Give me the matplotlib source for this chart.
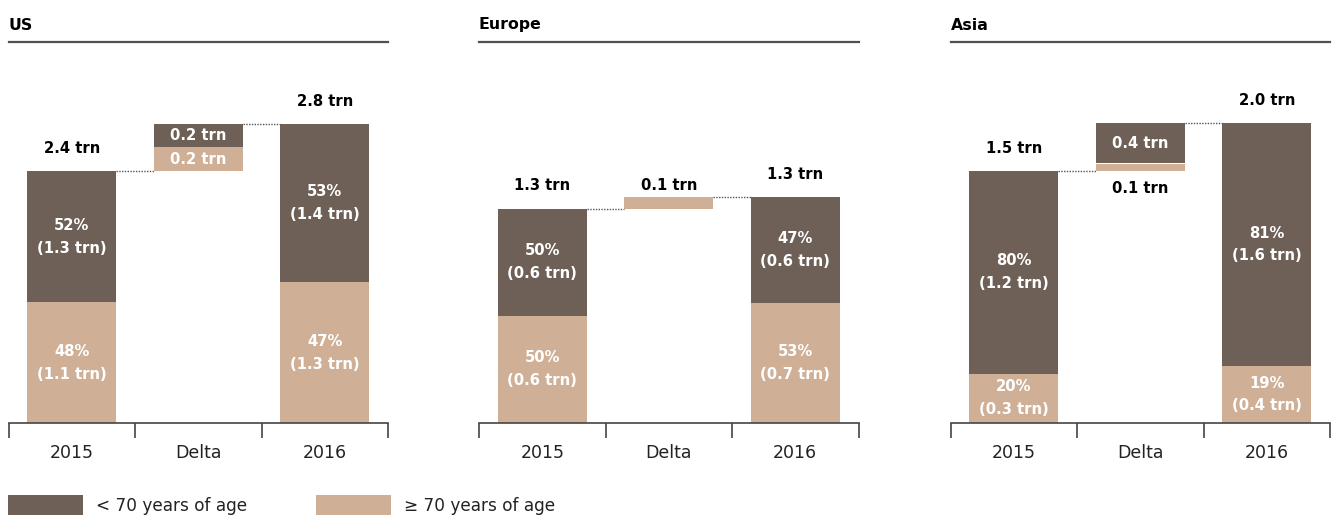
# wealth by age group: 2015 -> 2016 waterfall per region

import numpy as np
import matplotlib
matplotlib.use("Agg")
import matplotlib.pyplot as plt
from matplotlib.patches import Rectangle

plt.rcParams["font.family"] = ["DejaVu Sans"]

# data (trn): order is 2015, delta, 2016
categories = ["2015", "Delta", "2016"]
regions = ["US", "Europe", "Asia"]

us_young = [1.25, 0.22, 1.51]
us_old = [1.15, 0.23, 1.34]
eu_young = [0.65, 0.00, 0.64]
eu_old = [0.65, 0.07, 0.73]
asia_young = [1.35, 0.27, 1.62]
asia_old = [0.33, 0.05, 0.38]

# printed labels
us_totals = ["2.4 trn", "2.8 trn"]
eu_totals = ["1.3 trn", "1.3 trn"]
asia_totals = ["1.5 trn", "2.0 trn"]
us_young_labels = ["52%\n(1.3 trn)", "0.2 trn", "53%\n(1.4 trn)"]
us_old_labels = ["48%\n(1.1 trn)", "0.2 trn", "47%\n(1.3 trn)"]
eu_young_labels = ["50%\n(0.6 trn)", "", "47%\n(0.6 trn)"]
eu_old_labels = ["50%\n(0.6 trn)", "0.1 trn", "53%\n(0.7 trn)"]
asia_young_labels = ["80%\n(1.2 trn)", "0.4 trn", "81%\n(1.6 trn)"]
asia_old_labels = ["20%\n(0.3 trn)", "0.1 trn", "19%\n(0.4 trn)"]
legend_labels = ["< 70 years of age", "\u2265 70 years of age"]

dark = "#6e6056"
light = "#cfb097"
line_col = "#444444"
lab_size = 10.6

panels = [
    (us_young, us_old, us_totals, us_young_labels, us_old_labels, 3.63, 8.5),
    (eu_young, eu_old, eu_totals, eu_young_labels, eu_old_labels, 2.31, 479),
    (asia_young, asia_old, asia_totals, asia_young_labels, asia_old_labels, 2.54, 950.5),
]

W, H = 1336, 515
fig = plt.figure(figsize=(W / 100, H / 100), dpi=100)

x = np.arange(3)
bw = 0.70

for (young, old, totals, ylab, olab, ytop, left), name in zip(panels, regions):
    ax = fig.add_axes([left / W, (H - 423) / H, 379.5 / W, 381 / H])

    start = old[0] + young[0]
    bottoms = [0, start, 0]
    ax.bar(x, old, bw, bottom=bottoms, color=light, linewidth=0)
    ax.bar(x, young, bw, bottom=np.array(bottoms) + np.array(old), color=dark, linewidth=0)

    end = old[2] + young[2]
    delta_top = start + old[1] + young[1]
    # dotted connectors
    ax.plot([bw / 2, 1 - bw / 2], [start, start], ls=(0, (1, 1)), color="#555555", lw=1)
    ax.plot([1 + bw / 2, 2 - bw / 2], [delta_top, delta_top], ls=(0, (1, 1)), color="#555555", lw=1)

    # totals above 2015 / 2016 bars
    for xi, tot, lab in [(0, start, totals[0]), (2, end, totals[1])]:
        ax.annotate(lab, (xi, tot), xytext=(0, 11), textcoords="offset points",
                    ha="center", va="bottom", fontsize=lab_size, fontweight="bold", color="black")

    # segment labels
    for i in [0, 2]:
        ax.text(i, old[i] / 2, olab[i], ha="center", va="center", color="white",
                fontsize=lab_size, fontweight="bold", linespacing=1.65)
        ax.text(i, old[i] + young[i] / 2, ylab[i], ha="center", va="center", color="white",
                fontsize=lab_size, fontweight="bold", linespacing=1.65)

    # delta labels
    if name == "US":
        ax.text(1, start + old[1] / 2, olab[1], ha="center", va="center", color="white",
                fontsize=lab_size, fontweight="bold")
        ax.text(1, start + old[1] + young[1] / 2, ylab[1], ha="center", va="center",
                color="white", fontsize=lab_size, fontweight="bold")
    elif name == "Europe":
        ax.annotate(olab[1], (1, delta_top), xytext=(0, 3), textcoords="offset points",
                    ha="center", va="bottom", fontsize=lab_size, fontweight="bold")
    else:
        ax.text(1, start + old[1] + young[1] / 2, ylab[1], ha="center", va="center",
                color="white", fontsize=lab_size, fontweight="bold")
        ax.annotate(olab[1], (1, start), xytext=(0, -7), textcoords="offset points",
                    ha="center", va="top", fontsize=lab_size, fontweight="bold")

    ax.set_xlim(-0.5, 2.5)
    ax.set_ylim(0, ytop)
    ax.set_yticks([])
    for s in ["left", "right"]:
        ax.spines[s].set_visible(False)
    ax.spines["bottom"].set_color(line_col)
    ax.spines["bottom"].set_linewidth(1.2)
    ax.spines["top"].set_color("#505050")
    ax.spines["top"].set_linewidth(1.6)

    ax.set_xticks(x)
    ax.set_xticklabels(categories, fontsize=12.5, color="#222222")
    ax.tick_params(axis="x", which="major", length=0, pad=15)
    ax.set_xticks([-0.5, 0.5, 1.5, 2.5], minor=True)
    ax.tick_params(axis="x", which="minor", length=11, width=1.2, color=line_col)

    ax.set_title(name, loc="left", fontsize=11.3, fontweight="bold", pad=9, x=0.0)

# legend drawn by hand
for col, lab, sx in [(dark, legend_labels[0], 8), (light, legend_labels[1], 316)]:
    fig.add_artist(Rectangle((sx / W, -0.02), 75 / W, (20 + 0.02 * H) / H,
                             transform=fig.transFigure, color=col, lw=0))
    fig.text((sx + 88) / W, (H - 511) / H, lab, fontsize=12.2, color="#222222",
             ha="left", va="baseline")

fig.savefig("out.png", dpi=100)
